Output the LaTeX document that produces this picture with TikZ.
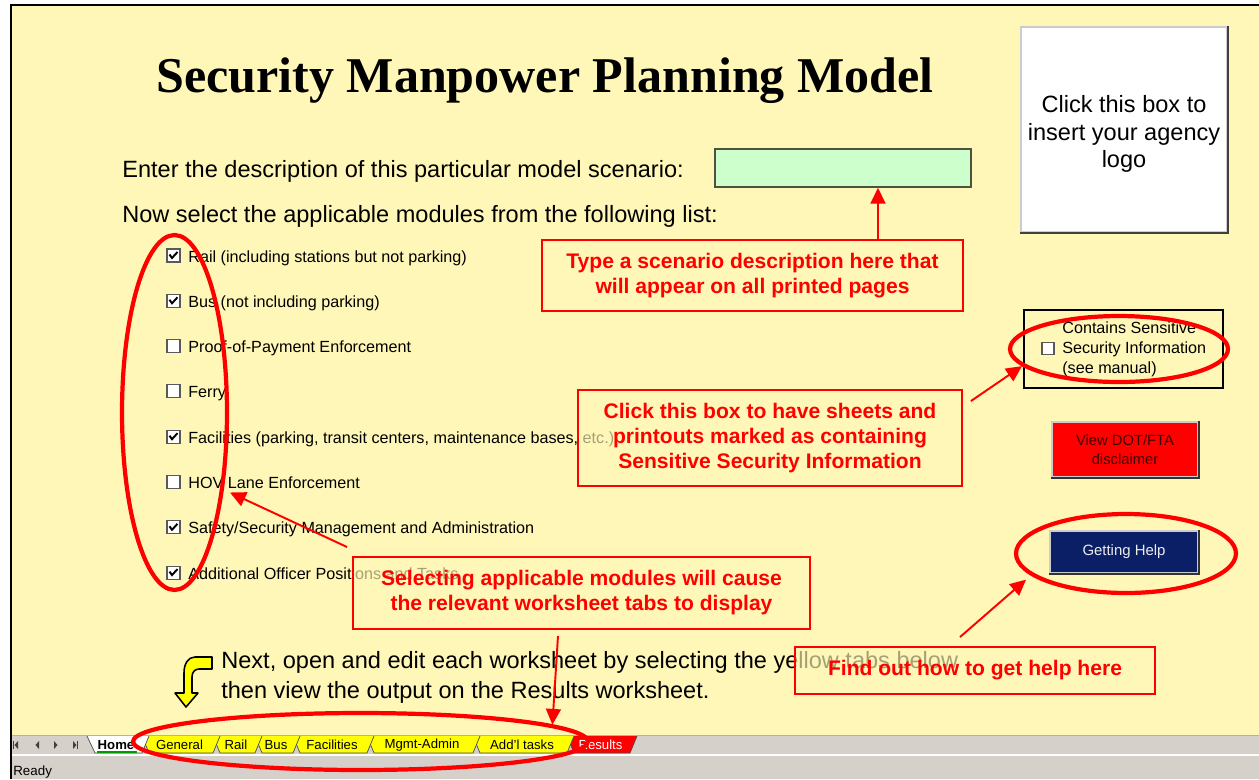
\documentclass[tikz,border=0pt]{standalone}
\usepackage{fontspec}
\setmainfont{Liberation Sans}
\newfontfamily\titlefont{Liberation Serif}
\usetikzlibrary{arrows.meta, shapes.geometric, calc}

\definecolor{sheet}{RGB}{255,247,183}
\definecolor{entry}{RGB}{204,255,204}
\definecolor{navy}{RGB}{10,31,102}
\definecolor{barcol}{RGB}{214,208,202}
\definecolor{tabyel}{RGB}{255,255,0}
\definecolor{maroon}{RGB}{64,0,0}
\newcommand{\fsz}[2]{\fontsize{#1}{#2}\selectfont}

\begin{document}
\begin{tikzpicture}[
      x=0.02cm, y=-0.02cm,
      callout/.style={draw=red, line width=1.1pt, text=red, fill=sheet, fill opacity=0.65, text opacity=1, align=center, inner sep=0pt, font=\bfseries\fsz{12}{14.2}},
      ring/.style={ellipse, draw=red, line width=2.4pt, inner sep=0pt},
      arr/.style={draw=red, line width=1.1pt, -{Triangle[length=9pt, width=8.5pt]}},
      body/.style={anchor=base west, inner sep=0pt, font=\fsz{13.4}{16}},
      item/.style={anchor=base west, inner sep=0pt, font=\fsz{9.2}{11}},
      cbox/.style={draw=gray!70!black, fill=white, minimum size=0.26cm, inner sep=0pt, line width=0.6pt},
      tick/.style={line width=1.1pt},
      button/.style={draw=gray!40, line width=0.8pt, align=center, inner sep=0pt},
      tabshape/.style={draw=black!70, line width=0.4pt},
      tablbl/.style={font=\fsz{7.5}{9}, inner sep=0pt}
  ]

  % sheet and window frame
  \useasboundingbox (0,0) rectangle (1259,779);
  \fill[white] (0,0) rectangle (1259,779);
  \fill[sheet] (11,5) rectangle (1259,735);
  \fill[barcol] (11,735) rectangle (1259,779);
  \draw[gray!60, line width=0.6pt] (11,735.5) -- (1259,735.5);
  \draw[white, line width=0.8pt] (11,755) -- (1259,755);
  \draw[line width=1.2pt] (11,779) -- (11,5) -- (1259,5);

  \node[font=\titlefont\bfseries\fsz{28.5}{34}, anchor=base, inner sep=0pt] (title) at (545,92) {Security Manpower Planning Model};

  \node[body] (enter) at (122,177) {Enter the description of this particular model scenario:};
  \node[draw={rgb,255:red,80;green,80;blue,64}, line width=0.9pt, fill=entry, minimum width=5.12cm, minimum height=0.76cm, inner sep=0pt] (scen) at (843,168) {};
  \node[body] (nowsel) at (122,222) {Now select the applicable modules from the following list:};

  % module check boxes
  \foreach \lbl/\chk [count=\i] in {
      {Rail (including stations but not parking)}/1,
      {Bus (not including parking)}/1,
      {Proof-of-Payment Enforcement}/0,
      {Ferry}/0,
      {Facilities (parking, transit centers, maintenance bases, etc.)}/1,
      {HOV Lane Enforcement}/0,
      {Safety/Security Management and Administration}/1,
      {Additional Officer Positions and Tasks}/1}
  {
    \node[cbox] (chk\i) at (173.5, 210.2+45.3*\i) {};
    \node[item] (mod\i) at (188, 216.7+45.3*\i) {\lbl};
    \ifnum\chk=1
      \draw[tick] ([shift={(-4,-1)}]chk\i.center) -- ++(2.5,3.5) -- ++(5.5,-6);
    \fi
  }
  \node[ring, minimum width=2.1cm, minimum height=7.1cm] (modell) at (174.5,412.5) {};

  % logo box
  \node[draw=gray!40, line width=0.8pt, fill=white, minimum width=4.12cm, minimum height=4.1cm, inner sep=0pt] (logo) at (1124,129.5) {};
  \draw[gray!50!black, line width=1.2pt] (logo.north east) -- (logo.south east) -- (logo.south west);
  \node[align=center, font=\fsz{13.4}{15.7}] (logotxt) at (1124,134) {Click this box to\\insert your agency\\logo};

  % sensitive security information
  \node[draw, line width=0.7pt, minimum width=3.98cm, minimum height=1.56cm, inner sep=0pt] (ssi) at (1123.5,349) {};
  \node[cbox, minimum size=0.24cm] (ssichk) at (1048,348.5) {};
  \node[anchor=west, align=left, inner sep=0pt, font=\fsz{9.2}{11.3}] (ssitxt) at (1062,349) {Contains Sensitive\\Security Information\\(see manual)};
  \node[ring, minimum width=4.36cm, minimum height=1.32cm] (ssiell) at (1119,349) {};

  % buttons
  \node[button, fill=red, text=maroon, minimum width=2.92cm, minimum height=1.1cm, font=\fsz{8.4}{10.6}] (disc) at (1125,449.5) {View DOT/FTA\\disclaimer};
  \draw[gray!40!black, line width=1pt] (disc.north east) -- (disc.south east) -- (disc.south west);
  \node[button, fill=navy, text=white!85!gray, minimum width=2.96cm, minimum height=0.84cm, font=\fsz{8.5}{10}] (help) at (1124,552) {Getting Help};
  \draw[gray!40!black, line width=1pt] (help.north east) -- (help.south east) -- (help.south west);
  \node[ring, minimum width=4.4cm, minimum height=1.58cm] (helpell) at (1126,553.5) {};

  % next step
  \draw[fill=tabyel, line width=0.9pt, line join=round] (212,657) -- (195,657) .. controls (188,657) and (184,664) .. (184,673) -- (184,693) -- (175,693) -- (186,707) -- (198,693) -- (192,693) -- (192,677) .. controls (192,672) and (195,669) .. (199,669) -- (212,669) -- cycle;
  \node[body] (next1) at (221,668) {Next, open and edit each worksheet by selecting the yellow tabs below};
  \node[body] (next2) at (221,698) {then view the output on the Results worksheet.};

  % sheet tabs, right to left
  \foreach \l/\r/\lbl/\fc/\tc [count=\i] in {567/630/Results/red/white, 473/567/Add'l tasks/tabyel/black, 367/473/Mgmt-Admin/tabyel/black, 293/367/Facilities/tabyel/black, 255/293/Bus/tabyel/black, 213/255/Rail/tabyel/black, 142/213/General/tabyel/black}
  {
    \draw[tabshape, fill=\fc] (\l,736) -- (\l+7,753) -- (\r,753) -- (\r+7,736);
    \node[tablbl, text=\tc] (tab\i) at ({(\l+\r)/2+2},745) {\lbl};
  }
  \draw[tabshape, fill=white] (87,736) -- (95,753) -- (142,753) -- (149,736);
  \node[tablbl, font=\bfseries\fsz{7.5}{9}] (home) at (116,745) {Home};
  \draw[green!60!black, line width=1pt] (97,752) -- (137,752);

  % tab scroll buttons
  \fill[black!75] (18,741) -- (14.5,745) -- (18,749) -- cycle;
  \draw[black!75, line width=0.6pt] (13.5,741) -- (13.5,749);
  \fill[black!75] (39,741) -- (35.5,745) -- (39,749) -- cycle;
  \fill[black!75] (54,741) -- (57.5,745) -- (54,749) -- cycle;
  \fill[black!75] (73,741) -- (76.5,745) -- (73,749) -- cycle;
  \draw[black!75, line width=0.6pt] (77.5,741) -- (77.5,749);
  \node[ring, minimum width=9.1cm, minimum height=1.14cm] (tabell) at (360.5,741.5) {};

  \node[anchor=base west, inner sep=0pt, font=\fsz{7.6}{9}] (ready) at (13,775) {Ready};

  % callouts
  \node[callout, minimum width=8.42cm, minimum height=1.42cm] (type) at (752.5,275.5) {Type a scenario description here that\\will appear on all printed pages};
  \node[callout, minimum width=7.68cm, minimum height=1.92cm] (click) at (770,438) {Click this box to have sheets and\\printouts marked as containing\\Sensitive Security Information};
  \node[callout, minimum width=9.14cm, minimum height=1.44cm] (select) at (581.5,593) {Selecting applicable modules will cause\\the relevant worksheet tabs to display};
  \node[callout, minimum width=7.2cm, minimum height=0.94cm] (find) at (975,670.5) {Find out how to get help here};

  \draw[arr] ($(type.north)+(125.5,0)$) -- ($(scen.south)+(35,0)$);
  \draw[arr] ($(click.north east)+(8,12)$) -- (ssiell.190);
  \draw[arr] ($(select.north west)+(-5,-9)$) -- ($(mod6.base west)+(42,4)$);
  \draw[arr] ($(select.south)+(-23.5,6)$) -- (tabell.5);
  \draw[arr] ($(find.north)+(-15,-9)$) -- ($(helpell.200)+(-20,-3)$);

\end{tikzpicture}
\end{document}
